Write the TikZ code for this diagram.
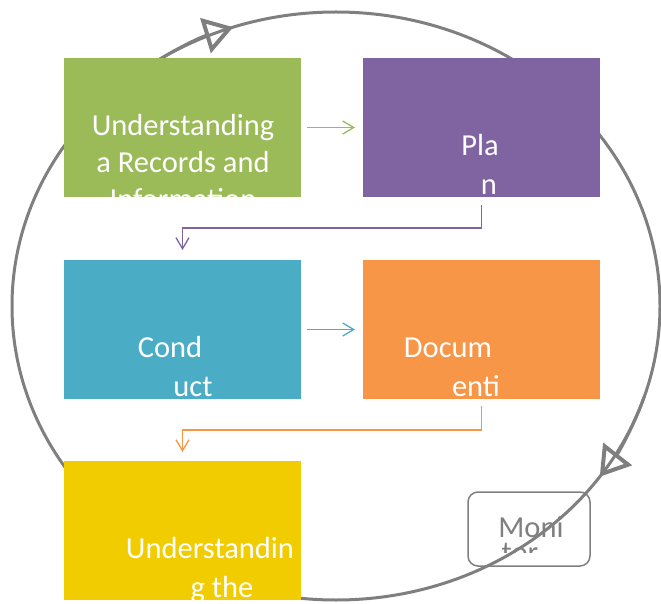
\documentclass[tikz,border=0pt]{standalone}
\usepackage{fontspec}
\setmainfont{Carlito}
\usetikzlibrary{arrows.meta}

\definecolor{ringgray}{HTML}{7F7F7F}
\definecolor{boxgreen}{HTML}{9BBB59}
\definecolor{boxpurple}{HTML}{8064A2}
\definecolor{boxblue}{HTML}{4BACC6}
\definecolor{boxorange}{HTML}{F79646}
\definecolor{boxyellow}{HTML}{F0CC00}

\begin{document}
\begin{tikzpicture}[x=1pt,y=1pt,
    box/.style={minimum width=237pt,minimum height=139pt,inner sep=0pt,outer sep=0pt},
    txt/.style={anchor=base,inner sep=0pt,text=white,font=\fontsize{30.5}{36}\selectfont},
    conn/.style={line width=1.3pt,-{Straight Barb[length=11pt,width=13pt]}},
    ring/.style={ringgray,line width=3pt},
    ringtip/.style={-{Triangle[open,length=29pt,width=36pt,line width=4pt]}}]
    \useasboundingbox (0,0) rectangle (661,603);
    % monitor box lies under the ring
    \node[draw=ringgray,line width=1.5pt,rounded corners=10pt,minimum width=122pt,minimum height=74pt] (mon) at (529,74) {};
    \begin{scope}
        \clip (mon.west |- 0,51) rectangle (mon.north east);
        \node[txt,text=ringgray] (mon1) at (531,66) {Moni};
        \node[txt,text=ringgray] (mon2) at (520,41) {tor};
    \end{scope}
    % the ring
    \coordinate (c) at (336,297);
    \draw[ring] (c) ellipse [x radius=324,y radius=294];
    \draw[ring,ringtip] (c) ++(128:324 and 294) arc[start angle=128,end angle=108.5,x radius=324,y radius=294];
    \draw[ring,ringtip] (c) ++(-18:324 and 294) arc[start angle=-18,end angle=-35.5,x radius=324,y radius=294];
    % boxes
    \foreach \n/\x/\y/\c in {und/182.5/475.5/boxgreen,pla/481.5/475.5/boxpurple,con/182.5/273.5/boxblue,doc/481.5/273.5/boxorange,unt/182.5/72.5/boxyellow}{
        \node[box,fill=\c] (\n) at (\x,\y) {};
    }
    % texts, cut off at the box edges
    \foreach \n/\x/\y/\t [count=\i] in {und/183/467/Understanding,und/183/430/a Records and,und/183/393/Information,
        pla/480/447/Pla,pla/489/408/n,con/170/246/Cond,con/193/207/uct,
        doc/448/246/Docum,doc/476/207/enti,unt/210/45/Understandin,unt/222/6/g the}{
        \begin{scope}
            \clip (\n.south west) rectangle (\n.north east);
            \node[txt] (l\i) at (\x,\y) {\t};
        \end{scope}
    }
    % connectors
    \draw[conn,boxgreen,shorten <=6pt,shorten >=8pt] (und.east) -- (pla.west);
    \draw[conn,boxpurple,shorten <=8pt,shorten >=10pt] (pla.south) -- ++(0,-31) -| (con.north);
    \draw[conn,boxblue,shorten <=6pt,shorten >=8pt] (con.east) -- (doc.west);
    \draw[conn,boxorange,shorten <=7pt,shorten >=9pt] (doc.south) -- ++(0,-31) -| (unt.north);
\end{tikzpicture}
\end{document}
